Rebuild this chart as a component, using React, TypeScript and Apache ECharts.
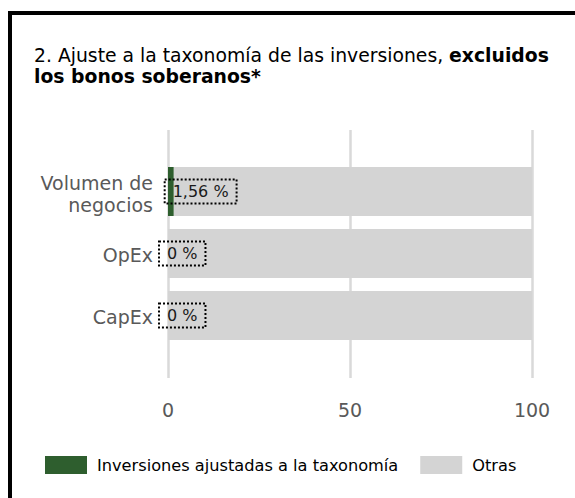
import React, { useEffect, useRef } from "react";
import * as echarts from "echarts";

const categories = ["Volumen de\nnegocios", "OpEx", "CapEx"];
const taxonomyValues = [1.56, 0, 0];
const otherValues = [98.44, 100, 100];
const labelTexts = ["1,56 %", "0 %", "0 %"];
const seriesNames = ["Inversiones ajustadas a la taxonomía", "Otras"];
const xTicks = { min: 0, max: 100, interval: 50 };

const FONT = "DejaVu Sans";

export default function App() {
  const ref = useRef<HTMLDivElement>(null);
  useEffect(() => {
    document.body.style.margin = "0";
    const chart = echarts.init(ref.current!, null, { renderer: "svg" });
    const catStyle = {
      fontFamily: FONT,
      fontSize: 19,
      color: "#595959",
      lineHeight: 22,
      align: "right",
    };
    chart.setOption({
      animation: false,
      textStyle: { fontFamily: FONT },
      title: {
        text: "{r|2. Ajuste a la taxonomía de las inversiones, }{b|excluidos}\n{b|los bonos soberanos*}",
        left: 34,
        top: 45,
        padding: 0,
        textStyle: {
          fontWeight: "normal",
          rich: {
            r: { fontFamily: FONT, fontSize: 18.8, fontWeight: "normal", color: "#000", lineHeight: 21 },
            b: { fontFamily: FONT, fontSize: 18.8, fontWeight: "bold", color: "#000", lineHeight: 21 },
          },
        },
      },
      legend: {
        left: 45,
        top: 456,
        padding: 0,
        itemWidth: 42,
        itemHeight: 18,
        itemGap: 22,
        icon: "rect",
        textStyle: { fontFamily: FONT, fontSize: 16.2, color: "#000", padding: [0, 0, 0, 5] },
        data: seriesNames,
      },
      graphic: [
        { type: "rect", shape: { x: 8, y: 11, width: 567, height: 4 }, style: { fill: "#000" } },
        { type: "rect", shape: { x: 8, y: 11, width: 4, height: 487 }, style: { fill: "#000" } },
      ],
      grid: [
        { left: 168, right: 43, top: 130, height: 248 },
        { left: 168, right: 43, top: 160.5, height: 186 },
      ],
      xAxis: [
        {
          gridIndex: 0,
          type: "value",
          min: xTicks.min,
          max: xTicks.max,
          interval: xTicks.interval,
          axisLine: { show: false },
          axisTick: { show: false },
          splitLine: { show: true, lineStyle: { color: "#d9d9d9", width: 2.5 } },
          axisLabel: { fontFamily: FONT, fontSize: 19, color: "#595959", margin: 22 },
        },
        {
          gridIndex: 1,
          type: "value",
          min: xTicks.min,
          max: xTicks.max,
          show: false,
        },
      ],
      yAxis: [
        {
          gridIndex: 0,
          type: "category",
          data: categories,
          show: false,
        },
        {
          gridIndex: 1,
          type: "category",
          data: categories,
          inverse: true,
          axisLine: { show: false },
          axisTick: { show: false },
          axisLabel: {
            margin: 15,
            align: "right",
            formatter: (v: string) =>
              v
                .split("\n")
                .map((line) => (v.includes("\n") ? `{m|${line}}` : `{s|${line}}`))
                .join("\n"),
            rich: {
              m: { ...catStyle, padding: [4, 0, 0, 0] },
              s: { ...catStyle, padding: [3, 0, 0, 0] },
            },
          },
        },
      ],
      series: [
        {
          name: seriesNames[0],
          type: "bar",
          xAxisIndex: 1,
          yAxisIndex: 1,
          stack: "t",
          barWidth: 49,
          itemStyle: { color: "#2e5e2e" },
          data: taxonomyValues,
          z: 3,
          label: {
            show: true,
            position: "right",
            distance: 0,
            offset: [-9, 0],
            formatter: (p: any) => labelTexts[p.dataIndex],
            fontFamily: FONT,
            fontSize: 16,
            color: "#1a1a1a",
            borderColor: "#000",
            borderWidth: 2,
            borderType: "dotted",
            padding: [4, 8, 4, 8],
          },
        },
        {
          name: seriesNames[1],
          type: "bar",
          xAxisIndex: 1,
          yAxisIndex: 1,
          stack: "t",
          barWidth: 49,
          itemStyle: { color: "#d4d4d4" },
          data: otherValues,
          z: 2,
        },
      ],
    });
    return () => chart.dispose();
  }, []);
  return <div ref={ref} style={{ width: 575, height: 498 }} />;
}
